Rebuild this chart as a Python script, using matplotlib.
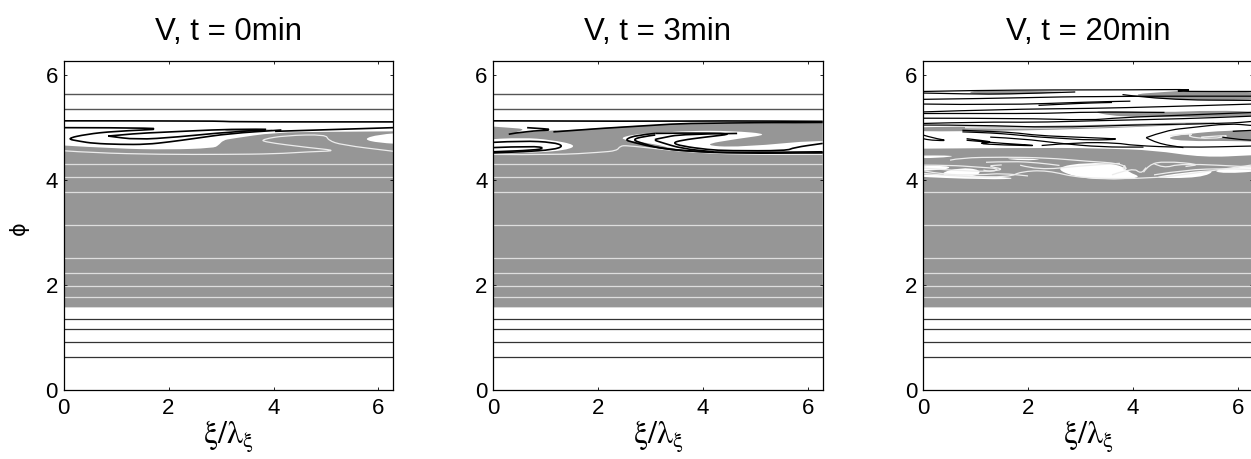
"""Three contour panels of V at t = 0, 3, 20 min (gray = positive, white = negative)."""
import matplotlib
matplotlib.use("Agg")
import matplotlib.pyplot as plt
from matplotlib.path import Path
from matplotlib.patches import PathPatch

plt.rcParams["font.family"] = ["Liberation Sans", "DejaVu Sans"]
plt.rcParams["mathtext.fontset"] = "stix"

TITLES = ["V, t = 0min", "V, t = 3min", "V, t = 20min"]
TICKS = [0, 2, 4, 6]
XMAX = 6.28

# horizontal contour levels shared by the panels
LOW_LEVELS = [0.635, 0.92, 1.155, 1.36]
GRAY_LEVELS = [1.77, 1.98, 2.23, 2.51, 3.14]
MID_LEVELS = [3.78, 4.06, 4.30]
TOP_LEVELS = [5.35, 5.64]
GRAY_BOTTOM = 1.575

# ---- panel 1 ----
P1_GRAY_TOP = [(0, 4.66), (1, 4.6), (2, 4.58), (2.85, 4.61), (2.95, 4.66), (3.04, 4.76),
               (3.2, 4.79), (4.03, 4.91), (4.98, 4.92), (6.28, 4.93)]
P1_WHITE = [[(5.7, 4.78), (6.0, 4.87), (6.28, 4.91), (6.28, 4.68), (6.0, 4.71)]]
P1_GRAY = [[(3.08, 4.93), (3.6, 4.94), (4.15, 4.96), (3.6, 4.97), (3.08, 4.97)]]
P1_BLACK = [
    [(0, 5.13), (3.0, 5.13), (3.1, 5.11), (6.28, 5.11)],
    [(0, 5.0), (1.0, 5.0), (2.05, 4.98), (0.95, 4.93), (0.44, 4.875), (0.05, 4.79), (0.31, 4.74),
     (0.57, 4.70), (1.08, 4.68), (1.58, 4.68), (2.03, 4.73), (2.47, 4.79), (3.17, 4.89), (4.15, 4.955)],
    [(0.85, 4.84), (1.39, 4.89), (1.84, 4.91), (2.47, 4.94), (3.17, 4.97), (4.15, 4.97), (3.17, 4.92),
     (2.16, 4.82), (1.39, 4.77), (0.85, 4.84)],
    [(4.03, 4.93), (5.0, 4.96), (6.28, 5.0)],
]
P1_LIGHT = [
    [(0, 4.56), (0.57, 4.52), (1.84, 4.49), (3.08, 4.49), (4.03, 4.5), (4.66, 4.54), (5.25, 4.56),
     (4.66, 4.62), (3.8, 4.73), (3.8, 4.78), (4.22, 4.85), (5.0, 4.87), (5.04, 4.76), (5.3, 4.67),
     (6.28, 4.55)],
]

# ---- panel 2 ----
P2_GRAY_TOP = [(0, 5.02), (0.3, 5.0), (0.65, 4.97), (0.3, 4.88), (1.25, 4.96), (1.15, 4.93),
               (3.18, 5.07), (4.36, 5.08), (4.86, 5.07), (6.28, 5.10)]
P2_WHITE = [
    [(0, 4.77), (0.58, 4.81), (1.09, 4.77), (1.6, 4.67), (1.4, 4.57), (0.77, 4.52), (0, 4.50)],
    [(2.36, 4.78), (2.67, 4.875), (3.18, 4.9), (3.72, 4.94), (4.55, 4.94), (5.3, 4.875), (4.67, 4.79),
     (3.95, 4.67), (4.67, 4.62), (6.28, 4.80), (6.28, 4.50), (4.67, 4.50), (4.04, 4.53), (3.4, 4.6),
     (3.09, 4.69)],
]
P2_GRAY = []
P2_BLACK = [
    [(0, 5.13), (3.0, 5.12), (4.3, 5.13), (6.28, 5.12)],
    [(0.3, 4.875), (0.6, 4.93), (1.25, 4.96), (0.65, 5.0)],
    [(1.15, 4.92), (3.18, 5.07), (4.36, 5.09), (6.28, 5.10)],
    [(0, 4.72), (0.58, 4.75), (1.15, 4.72), (1.35, 4.65), (1.15, 4.58), (0.58, 4.54), (0, 4.52)],
    [(0, 4.62), (0.77, 4.65), (1.0, 4.61), (0.77, 4.57), (0, 4.54)],
    [(3.09, 4.89), (2.74, 4.86), (2.5, 4.77), (2.67, 4.72), (3.09, 4.62), (3.72, 4.55), (4.67, 4.51),
     (6.28, 4.52)],
    [(3.09, 4.86), (2.85, 4.83), (2.65, 4.77), (2.85, 4.70), (3.2, 4.6), (3.9, 4.54), (4.7, 4.525),
     (6.28, 4.54)],
    [(4.65, 4.89), (3.6, 4.88), (3.2, 4.8), (3.05, 4.77), (3.2, 4.72), (3.6, 4.60), (4.2, 4.54)],
    [(3.09, 4.89), (3.59, 4.9), (4.65, 4.89), (4.04, 4.82), (3.59, 4.76), (3.42, 4.71), (3.59, 4.65),
     (4.1, 4.58), (4.48, 4.56), (5.6, 4.56), (5.72, 4.62), (6.28, 4.70)],
]
P2_LIGHT = [
    [(0, 4.49), (1.21, 4.48), (2.04, 4.53), (2.36, 4.56), (2.42, 4.65), (2.55, 4.66), (3.09, 4.60),
     (3.72, 4.54), (4.67, 4.49), (6.28, 4.49)],
]

# ---- panel 3 ----
P3_GRAY_TOP = [(0, 4.6), (2.5, 4.62), (3.5, 4.6), (4.39, 4.57), (5.34, 4.43), (6.28, 4.475)]
P3_WHITE = [
    [(0, 4.47), (0.7, 4.47), (0.3, 4.42), (0, 4.42)],
    [(0.3, 4.13), (0.705, 4.24), (1.1, 4.2), (1.05, 4.08), (0.58, 4.04)],
    [(2.5, 4.24), (3.12, 4.34), (3.75, 4.3), (3.9, 4.16), (4.2, 4.04), (3.44, 4.0), (2.85, 4.07)],
    [(4.26, 4.04), (5.0, 4.15), (5.6, 4.2), (5.3, 4.04)],
    [(0, 4.26), (0.5, 4.28), (0.5, 4.2), (0, 4.17)],
    [(1.47, 4.42), (2.36, 4.40), (1.9, 4.37)],
    [(0, 4.07), (1.2, 4.01), (1.9, 4.03), (1.2, 4.08), (0, 4.12)],
    [(5.5, 4.2), (6.28, 4.3), (6.28, 4.18), (5.7, 4.12)],
]
P3_GRAY = [
    [(0, 5.0), (0.5, 5.02), (2.5, 5.03), (5.0, 5.1), (5.8, 5.1), (5.0, 5.05), (3, 4.97), (1.0, 4.93), (0, 4.93)],
    [(4.6, 4.8), (5.0, 4.88), (5.82, 4.95), (6.28, 4.95), (6.28, 4.72), (5.9, 4.75), (5.0, 4.74)],
    [(0.9, 5.71), (2.0, 5.70), (2.9, 5.68), (1.6, 5.63), (0.9, 5.64)],
    [(3.91, 5.63), (4.6, 5.68), (5.3, 5.73), (4.6, 5.69), (6.28, 5.69), (6.28, 5.52), (4.6, 5.53)],
    [(2.3, 5.43), (3.18, 5.49), (3.95, 5.5), (3.18, 5.47)],
    [(3.09, 5.33), (4.6, 5.29), (5.5, 5.33), (6.28, 5.3), (6.28, 5.22), (5, 5.2), (3.72, 5.2)],
]
P3_BLACK = [
    [(0, 5.69), (1, 5.71), (2.5, 5.72), (3.9, 5.72), (5.3, 5.73), (4.6, 5.69), (6.28, 5.69)],
    [(0, 5.66), (0.9, 5.64), (1.6, 5.64), (2.9, 5.68)],
    [(3.8, 5.63), (4.6, 5.53), (6.28, 5.52)],
    [(0, 5.54), (1.2, 5.555), (2.8, 5.59), (3.18, 5.59), (4.3, 5.6), (6.28, 5.6)],
    [(0, 5.45), (1.5, 5.43), (3.18, 5.49), (3.95, 5.505)],
    [(2.2, 5.425), (2.7, 5.45), (3.18, 5.47), (3.6, 5.48)],
    [(0, 5.3), (1.5, 5.35), (3.18, 5.365), (4.6, 5.40), (6.28, 5.45)],
    [(0, 5.27), (1.2, 5.27), (2.35, 5.27), (3.18, 5.30), (4.6, 5.29)],
    [(0, 5.18), (1.85, 5.18), (3.18, 5.14), (3.72, 5.19), (5, 5.24), (6.28, 5.29)],
    [(0, 5.08), (1.15, 5.11), (2.1, 5.1), (3.18, 5.13), (5.0, 5.17), (6.28, 5.22)],
    [(0, 5.05), (1.0, 5.05), (2.5, 5.0), (3.9, 5.05), (5.82, 5.08), (6.28, 5.12)],
    [(0, 4.86), (0.2, 4.8), (0.5, 4.75), (0.15, 4.76), (0, 4.79)],
    [(0.83, 4.79), (1.1, 4.76), (1.35, 4.72), (1.0, 4.7), (1.5, 4.67), (2.35, 4.65), (1.5, 4.7), (0.83, 4.76)],
    [(0.75, 4.95), (1.2, 4.93), (1.7, 4.91), (2.2, 4.85), (2.9, 4.82), (3.4, 4.8), (3.8, 4.78), (3.2, 4.76),
     (2.6, 4.8), (2.2, 4.82), (1.7, 4.87), (1.3, 4.9), (0.75, 4.92)],
    [(2.26, 4.66), (2.95, 4.72), (3.7, 4.71), (4.0, 4.66), (4.96, 4.62), (6.28, 4.65)],
    [(1.28, 4.82), (1.9, 4.79), (2.6, 4.7), (3.4, 4.63), (4.2, 4.63)],
    [(4.25, 4.81), (4.64, 4.95), (5.1, 5.0), (5.82, 5.08), (6.28, 5.04)],
    [(4.25, 4.81), (4.45, 4.7), (4.96, 4.62)],
    [(5.9, 4.93), (6.28, 4.95)],
    [(5.7, 4.82), (5.95, 4.78), (6.28, 4.76)],
]
P3_LIGHT = [
    [(0.515, 4.38), (0.705, 4.425), (1.53, 4.44), (2.36, 4.425), (3.12, 4.36), (3.75, 4.32), (3.9, 4.22),
     (3.8, 4.2), (3.85, 4.28)],
    [(0, 4.285), (0.515, 4.285), (1.02, 4.25), (1.47, 4.22), (1.31, 4.16), (1.15, 4.19)],
    [(1.85, 4.285), (2.2, 4.19), (2.98, 4.27), (3.75, 4.32)],
    [(0, 4.13), (0.7, 4.06), (1.66, 4.06), (1.85, 4.16), (2.36, 4.19), (3.0, 4.03), (4.39, 4.03), (5.15, 4.13),
     (6.28, 4.29)],
    [(4.39, 4.32), (4.58, 4.22), (4.9, 4.32), (6.28, 4.25)],
    [(4.2, 4.15), (4.3, 4.3), (4.6, 4.36), (5.3, 4.3), (5.0, 4.26)],
    [(0, 4.23), (1.0, 4.15), (1.6, 4.2), (1.2, 4.27), (1.5, 4.29)],
    [(0.8, 5.0), (2.0, 4.98), (3.5, 5.02), (5.0, 5.07)],
    [(4.7, 4.85), (5.2, 4.9), (5.0, 4.83), (5.5, 4.78), (5.9, 4.86), (5.3, 4.82)],
    [(1.2, 4.34), (1.7, 4.36), (2.2, 4.33), (2.6, 4.28)],
    [(0, 4.18), (0.4, 4.1), (1.1, 4.1), (1.5, 4.13), (2.0, 4.08)],
    [(4.4, 4.1), (5.0, 4.2), (5.8, 4.22), (6.28, 4.2)],
    [(3.6, 4.1), (4.0, 4.24), (4.15, 4.12), (4.25, 4.24)],
]

PANELS = [
    (P1_GRAY_TOP, P1_WHITE, P1_GRAY, P1_BLACK, P1_LIGHT, True),
    (P2_GRAY_TOP, P2_WHITE, P2_GRAY, P2_BLACK, P2_LIGHT, True),
    (P3_GRAY_TOP, P3_WHITE, P3_GRAY, P3_BLACK, P3_LIGHT, False),
]
LEFT_PX = [63.5, 493, 923]
GRAY = "#969696"


def curve_open(pts):
    """Quadratic bezier verts through the midpoints of an open contour."""
    verts = [pts[0]]
    codes = [Path.MOVETO]
    for a, b in zip(pts[1:-1], pts[2:]):
        mid = ((a[0] + b[0]) / 2, (a[1] + b[1]) / 2)
        verts += [a, mid]
        codes += [Path.CURVE3, Path.CURVE3]
    verts.append(pts[-1])
    codes.append(Path.LINETO)
    return verts, codes


def curve_closed(pts):
    # corners sitting on the axes edge are pushed outside, the axes clip them
    pts = [(-0.3 if x <= 0 else XMAX + 0.3 if x >= XMAX else x, y) for x, y in pts]
    start = ((pts[-1][0] + pts[0][0]) / 2, (pts[-1][1] + pts[0][1]) / 2)
    verts = [start]
    codes = [Path.MOVETO]
    for a, b in zip(pts, pts[1:] + pts[:1]):
        verts += [a, ((a[0] + b[0]) / 2, (a[1] + b[1]) / 2)]
        codes += [Path.CURVE3, Path.CURVE3]
    return verts, codes


def draw_panel(ax, gray_top, whites, grays, blacks, lights, has_top):
    verts, codes = curve_open(gray_top)
    verts = verts + [(XMAX, GRAY_BOTTOM), (0, GRAY_BOTTOM), gray_top[0]]
    codes = codes + [Path.LINETO, Path.LINETO, Path.CLOSEPOLY]
    ax.add_patch(PathPatch(Path(verts, codes), fc=GRAY, lw=0, zorder=1))
    for p in whites:
        ax.add_patch(PathPatch(Path(*curve_closed(p)), fc="white", lw=0, zorder=2))
    for p in grays:
        ax.add_patch(PathPatch(Path(*curve_closed(p)), fc=GRAY, lw=0, zorder=2))

    ax.hlines(LOW_LEVELS, 0, XMAX, color="#333333", lw=0.9, zorder=3)
    ax.hlines(GRAY_LEVELS + MID_LEVELS[:1 if not has_top else 3], 0, XMAX, color="#dedede", lw=0.9, zorder=3)
    if has_top:
        ax.hlines(TOP_LEVELS, 0, XMAX, color="#555555", lw=1.0, zorder=3)
    for c in lights:
        ax.add_patch(PathPatch(Path(*curve_open(c)), fc="none", ec="#ececec", lw=0.9, zorder=4))
    black_lw = 1.2 if has_top else 0.9
    for c in blacks:
        ax.add_patch(PathPatch(Path(*curve_open(c)), fc="none", ec="black", lw=black_lw, zorder=5))


def main():
    fig = plt.figure(figsize=(12.51, 4.59), dpi=100)
    for i, (left, title) in enumerate(zip(LEFT_PX, TITLES)):
        ax = fig.add_axes([left / 1251, (459 - 390) / 459, 329.7 / 1251, 329.5 / 459])
        draw_panel(ax, *PANELS[i])
        ax.set_xlim(0, XMAX)
        ax.set_ylim(0, XMAX)
        ax.set_xticks(TICKS)
        ax.set_yticks(TICKS)
        ax.tick_params(direction="in", top=True, right=True, length=2.4, width=0.6, labelsize=16)
        ax.tick_params(axis="x", pad=6)
        ax.tick_params(axis="y", pad=4)
        for s in ax.spines.values():
            s.set_linewidth(0.9)
            s.set_zorder(6)
        fig.text((left + 165) / 1251, 1 - 32 / 459, title, fontsize=22.5, ha="center", va="center")
        fig.text((left + 165) / 1251, 1 - 437 / 459, r"$\mathrm{\xi/\lambda_{\xi}}$", fontsize=23,
                 ha="center", va="center")
    fig.text(19 / 1251, 1 - 228 / 459, "ϕ", fontsize=15, rotation=90, ha="center", va="center",
             family="DejaVu Sans")
    fig.savefig("out.png", dpi=100)
    plt.close(fig)


if __name__ == "__main__":
    main()
